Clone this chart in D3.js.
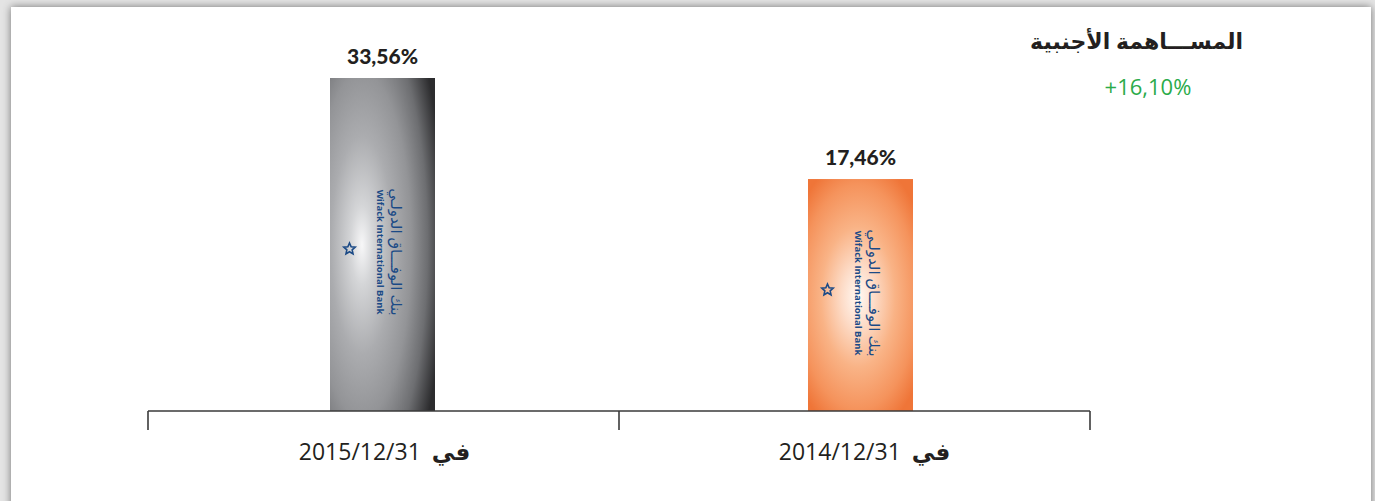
<html lang="ar">
<head>
  <meta charset="UTF-8">
  <title>المساهمة الأجنبية</title>
  <script src="https://d3js.org/d3.v7.min.js"></script>
  <style>
    body { margin: 0; background: #e6e6e6; }
    svg { display: block; }
  </style>
</head>
<body>
<svg class="chart" width="1375" height="501"></svg>
<script>
  // data
  const dates = ['2015/12/31', '2014/12/31'];
  const shares = [33.56, 17.46];
  const shareLabels = ['33,56%', '17,46%'];
  const changeLabel = '+16,10%';
  const title = 'المســـاهمة الأجنبية';

  const svg = d3.select('svg.chart');
  const defs = svg.append('defs');

  // panel with soft shadow
  const sh = defs.append('filter').attr('id', 'shadow')
    .attr('x', '-5%').attr('y', '-5%').attr('width', '110%').attr('height', '110%');
  sh.append('feGaussianBlur').attr('in', 'SourceAlpha').attr('stdDeviation', 4);
  sh.append('feComponentTransfer').append('feFuncA').attr('type', 'linear').attr('slope', 0.5);
  const m = sh.append('feMerge');
  m.append('feMergeNode');
  m.append('feMergeNode').attr('in', 'SourceGraphic');

  svg.append('rect').attr('width', 1375).attr('height', 501).attr('fill', '#e4e4e4');
  svg.append('rect').attr('x', 11).attr('y', 7).attr('width', 1360).attr('height', 520)
    .attr('fill', '#fff').attr('filter', 'url(#shadow)');

  const x = d3.scaleBand().domain(dates).range([148, 1090]);
  const y = d3.scaleLinear().domain([-19.5, 33.56]).range([411, 78]);
  const barW = 105;
  const shift = [-1, 6];
  const cxOf = (d, i) => x(d) + x.bandwidth() / 2 + shift[i];

  // gradients, placed in page space
  function radial(id, cx, cy, r, sy, stops) {
    const gr = defs.append('radialGradient').attr('id', id)
      .attr('gradientUnits', 'userSpaceOnUse')
      .attr('cx', cx).attr('cy', cy).attr('r', r)
      .attr('gradientTransform', `translate(${cx},${cy}) scale(1,${sy}) translate(${-cx},${-cy})`);
    stops.forEach(s => gr.append('stop').attr('offset', s[0]).attr('stop-color', s[1]));
  }
  radial('g0', 362, 245, 82, 3.5, [
    ['0%', '#f7f7f8'], ['14%', '#d4d5d7'], ['38%', '#abacaf'], ['60%', '#939497'],
    ['80%', '#6d6e71'], ['100%', '#2c2c2e']]);
  radial('g1', 858, 297, 74, 1.9, [
    ['0%', '#fff9f4'], ['22%', '#fddcc8'], ['50%', '#f9b386'], ['80%', '#f5935c'], ['100%', '#ef7538']]);

  const g = svg.append('g');
  const bars = g.selectAll('g.bar').data(dates).join('g').attr('class', 'bar');
  bars.append('rect')
    .attr('x', (d, i) => cxOf(d, i) - barW / 2)
    .attr('y', (d, i) => y(shares[i]))
    .attr('width', barW)
    .attr('height', (d, i) => y(-19.5) - y(shares[i]))
    .attr('fill', (d, i) => `url(#g${i})`);

  // bank logo, written sideways
  bars.each(function (d, i) {
    const cx = cxOf(d, i);
    const cy = i ? 293 : 252;
    const lg = d3.select(this).append('g')
      .attr('transform', `translate(${cx},${cy}) rotate(90)`)
      .attr('fill', '#1b4a86');
    lg.append('text').attr('x', 0).attr('y', -8).attr('text-anchor', 'middle')
      .attr('font-family', 'Noto Sans, DejaVu Sans').attr('font-size', 15)
      .attr('font-weight', 500)
      .attr('direction', 'rtl')
      .text('بنك الوفـــاق الدولـي');
    lg.append('text').attr('x', 0).attr('y', 6).attr('text-anchor', 'middle')
      .attr('font-family', 'Open Sans, DejaVu Sans').attr('font-weight', 'bold')
      .attr('font-size', 9.5).text('Wifack International Bank');
    // star outline
    const star = d3.range(10).map(k => {
      const a = Math.PI / 5 * k - Math.PI / 2;
      const r = k % 2 ? 2.8 : 6;
      return [Math.cos(a) * r, Math.sin(a) * r];
    });
    lg.append('path')
      .attr('transform', 'translate(-3,33) rotate(-90)')
      .attr('d', d3.line()(star) + 'Z')
      .attr('fill', 'none').attr('stroke', '#1b4a86').attr('stroke-width', 1.6);
  });

  // value labels
  g.selectAll('text.val').data(dates).join('text').attr('class', 'val')
    .attr('x', cxOf)
    .attr('y', (d, i) => y(shares[i]) - 14)
    .attr('text-anchor', 'middle')
    .attr('font-family', 'Lato, DejaVu Sans').attr('font-weight', 900)
    .attr('font-size', 21).attr('fill', '#231f20')
    .text((d, i) => shareLabels[i]);

  // axis
  const ax = svg.append('g').attr('transform', 'translate(0,411)');
  ax.append('line').attr('x1', 148).attr('x2', 1090).attr('stroke', '#3a3a3a').attr('stroke-width', 1.6);
  ax.selectAll('line.tick').data([148, x(dates[1]), 1090]).join('line').attr('class', 'tick')
    .attr('x1', d => d).attr('x2', d => d).attr('y1', 0).attr('y2', 19)
    .attr('stroke', '#3a3a3a').attr('stroke-width', 1.6);

  const cat = ax.selectAll('text.cat').data(dates).join('text').attr('class', 'cat')
    .attr('x', (d, i) => x(d) + x.bandwidth() / 2 + (i ? 10 : 1))
    .attr('y', 49)
    .attr('text-anchor', 'middle')
    .attr('font-family', 'Open Sans, DejaVu Sans').attr('font-size', 23).attr('fill', '#231f20');
  cat.append('tspan').text(d => d);
  cat.append('tspan').attr('dx', 11).attr('font-weight', 'bold').attr('font-family', 'Noto Sans, DejaVu Sans').text('في');

  // title and change
  svg.append('text').attr('x', 1243).attr('y', 49).attr('text-anchor', 'end')
    .attr('direction', 'ltr')
    .attr('font-family', 'Noto Sans, DejaVu Sans').attr('font-weight', 'bold')
    .attr('font-size', 22).attr('fill', '#231f20').text(title);
  svg.append('text').attr('x', 1148).attr('y', 95).attr('text-anchor', 'middle')
    .attr('font-family', 'Open Sans, DejaVu Sans').attr('font-size', 22)
    .attr('fill', '#2bab4a').text(changeLabel);
</script>
</body>
</html>
